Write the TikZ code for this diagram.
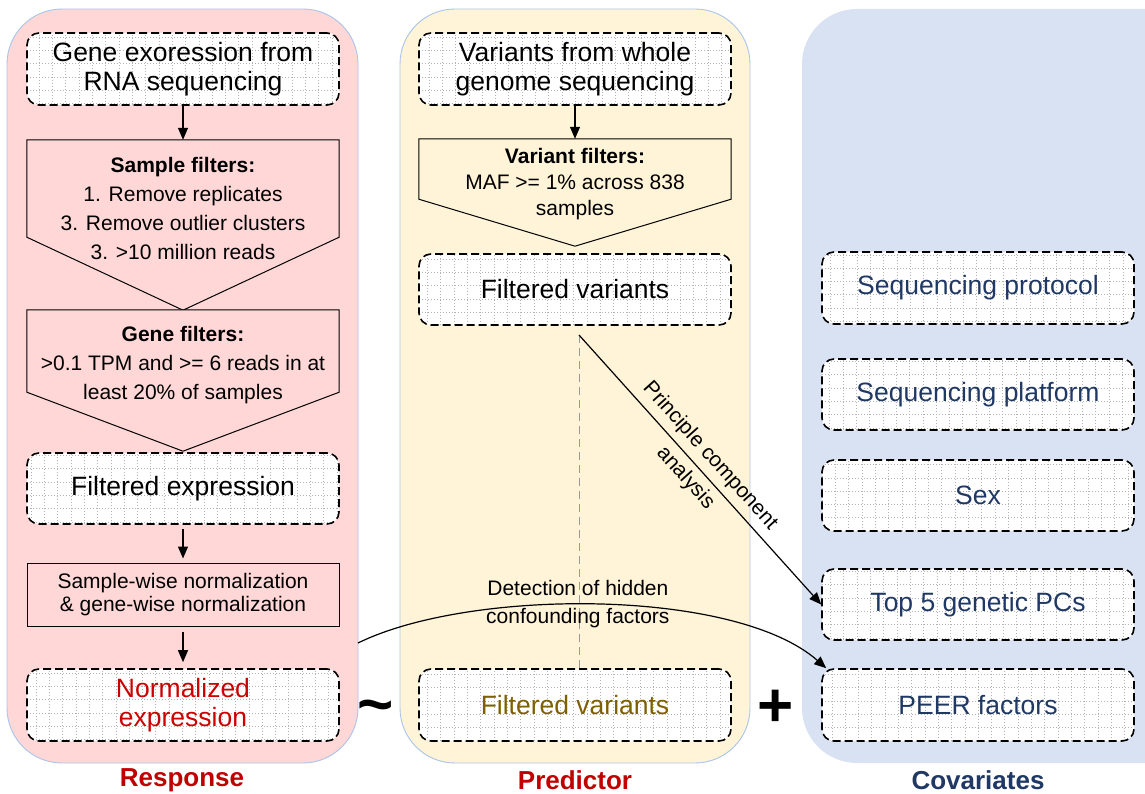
\documentclass[tikz,border=0pt]{standalone}
\usepackage{fontspec}
\setmainfont{Liberation Sans}
\usetikzlibrary{arrows.meta,calc}
\definecolor{pinkbg}{HTML}{FFD7D7}
\definecolor{yellowbg}{HTML}{FFF4D7}
\definecolor{bluebg}{HTML}{D9E2F3}
\definecolor{panelline}{HTML}{A9C4EB}
\definecolor{darkred}{HTML}{C00000}
\definecolor{textred}{HTML}{CC0000}
\definecolor{olivetext}{HTML}{7F6000}
\definecolor{navytext}{HTML}{1F3864}
\tikzset{
  panel/.style={draw=panelline, line width=0.9pt, rounded corners=55pt, minimum width=#1, minimum height=754pt, inner sep=0pt},
  gridfill/.style={path picture={\draw[gray!60, line width=0.9pt, dash pattern=on 0.9pt off 2.1pt] (path picture bounding box.south west) grid[step=13.3pt] (path picture bounding box.north east);}},
  dbox/.style={draw=black, fill=white, line width=1.6pt, dash pattern=on 8pt off 4pt, rounded corners=12pt, minimum width=312pt, minimum height=72pt, inner sep=0pt, align=center, font=\fontsize{26.5}{29}\selectfont, gridfill},
  plainbox/.style={draw=black, line width=1pt, fill=pinkbg, minimum width=312pt, inner sep=0pt, align=center},
  bound/.style={minimum width=312pt, inner sep=0pt},
  pent/.style={draw=black, line width=1pt, line join=miter},
  smalltext/.style={align=center, inner sep=0pt, font=\fontsize{21}{29}\selectfont},
  arr/.style={line width=1.2pt, -{Triangle[length=12pt,width=10pt]}},
  paneltitle/.style={font=\fontsize{26}{30}\selectfont\bfseries, inner sep=0pt},
}
\begin{document}
\begin{tikzpicture}[x=1pt,y=-1pt]
\useasboundingbox (0,0) rectangle (1145,794);
\clip (0,0) rectangle (1145,794);

% panels
\node[panel=351pt, fill=pinkbg] (rp) at (182.5,386) {};
\node[panel=350pt, fill=yellowbg] (yp) at (575,386) {};
\node[panel=420pt, fill=bluebg, draw=none] (cp) at (1012,386) {};

% ---------------- Response column
\node[dbox] (g1) at (183,69) {Gene exoression from\\RNA sequencing};

\node[bound, minimum height=170pt] (sf) at (183,225) {};
\draw[pent, fill=pinkbg] (sf.north west) -- (sf.north east) -- ([yshift=73pt]sf.south east) -- (sf.south) -- ([yshift=73pt]sf.south west) -- cycle;
\node[smalltext] (sft) at (183,208) {\textbf{Sample filters:}\\1. Remove replicates\\3. Remove outlier clusters\\3. >10 million reads};

\node[bound, minimum height=141pt] (gf) at (183,380.5) {};
\draw[pent, fill=pinkbg] (gf.north west) -- (gf.north east) -- ([yshift=59pt]gf.south east) -- (gf.south) -- ([yshift=59pt]gf.south west) -- cycle;
\node[smalltext] (gft) at (183,365) {\textbf{Gene filters:}\\>0.1 TPM and >= 6 reads in at\\least 20\% of samples};

\node[dbox, minimum height=71pt] (fe) at (183,488.5) {Filtered expression};

\node[plainbox, minimum height=63pt, font=\fontsize{21}{23.5}\selectfont] (nm) at (183,594.5) {Sample-wise normalization\\\&{} gene-wise normalization};

\node[dbox, text=textred] (ne) at (183,705) {Normalized\\expression};

\draw[arr] (g1.south) -- (sf.north);
\draw[arr, shorten <=4pt, shorten >=4pt] (fe.south) -- (nm.north);
\draw[arr, shorten <=5pt, shorten >=6pt] (nm.south) -- (ne.north);

\node[paneltitle, text=darkred] (rt) at (182,780) {Response};
\node[font=\fontsize{62}{62}\selectfont\bfseries, inner sep=0pt] (tl) at (376,713) {\char`\~};

% ---------------- Predictor column
\node[dbox] (v1) at (575,69) {Variants from whole\\genome sequencing};

\node[bound, minimum height=107pt] (vf) at (575,192.5) {};
\draw[pent, fill=yellowbg] (vf.north west) -- (vf.north east) -- ([yshift=47pt]vf.south east) -- (vf.south) -- ([yshift=47pt]vf.south west) -- cycle;
\node[smalltext, font=\fontsize{21}{26}\selectfont] (vft) at (575,184) {\textbf{Variant filters:}\\MAF >= 1\% across 838\\samples};

\node[dbox, minimum height=71pt] (fv1) at (575,289.5) {Filtered variants};
\node[dbox, text=olivetext] (fv2) at (575,705) {Filtered variants};

\draw[arr] (v1.south) -- (vf.north);

\node[paneltitle, text=darkred] (pt) at (575,780) {Predictor};
\node[font=\fontsize{62}{62}\selectfont\bfseries, inner sep=0pt] (pl) at (776,708) {+};

% ---------------- Covariates column
\node[dbox, text=navytext] (sp) at (978,288) {Sequencing protocol};
\node[dbox, text=navytext, minimum height=71pt] (spl) at (978,394.5) {Sequencing platform};
\node[dbox, text=navytext, minimum height=71pt] (sx) at (978,495.5) {Sex};
\node[dbox, text=navytext, minimum height=71pt] (t5) at (978,604.5) {Top 5 genetic PCs};
\node[dbox, text=navytext] (pf) at (978,705) {PEER factors};

\node[paneltitle, text=navytext] (ct) at (978,780) {Covariates};

% ---------------- connectors
\coordinate (pc) at (579,335);
\coordinate (cs) at (358,643);
\draw[gray!80, line width=1pt, dash pattern=on 8pt off 5pt] (pc) -- (pc |- fv2.north);
\draw[arr] (pc) -- node[sloped, pos=0.49, smalltext, font=\fontsize{21}{33}\selectfont] {Principle component\\analysis} (t5.west);
\draw[arr] (cs) .. controls (470,588) and (735,588) .. node[pos=0.46, smalltext, font=\fontsize{21}{28}\selectfont] {Detection of hidden\\confounding factors} ([xshift=5pt]pf.north west);
\end{tikzpicture}
\end{document}
